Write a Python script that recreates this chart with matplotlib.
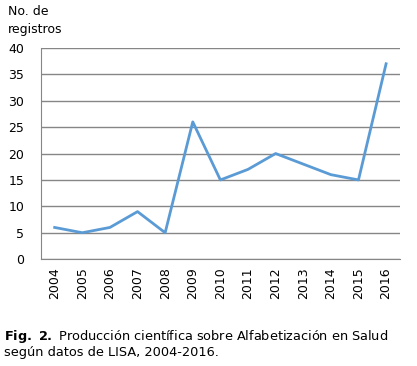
import matplotlib
matplotlib.use("Agg")
import matplotlib.pyplot as plt

years = ['2004', '2005', '2006', '2007', '2008', '2009', '2010',
         '2011', '2012', '2013', '2014', '2015', '2016']
registros = [6, 5, 6, 9, 5, 26, 15, 17, 20, 18, 16, 15, 37]
y_ticks = [0, 5, 10, 15, 20, 25, 30, 35, 40]

plt.rcParams['font.family'] = ['DejaVu Sans']
plt.rcParams['mathtext.fontset'] = 'dejavusans'

fig = plt.figure(figsize=(4.17, 3.66), dpi=100)
ax = fig.add_axes([0.098, 0.292, 0.861, 0.577])

x = list(range(len(years)))
ax.plot(x, registros, color='#5B9BD5', linewidth=2)

ax.set_xlim(-0.5, len(years) - 0.5)
ax.set_ylim(0, 40)
ax.set_yticks(y_ticks)
ax.set_xticks(x)
ax.set_xticklabels(years, rotation=90)
ax.tick_params(axis='both', length=0, labelsize=9, colors='black')
ax.tick_params(axis='y', pad=12)
ax.tick_params(axis='x', pad=6)

# gridlines like the office chart
ax.yaxis.grid(True, color='#868686', linewidth=1)
ax.set_axisbelow(True)
for s in ['top', 'right']:
    ax.spines[s].set_visible(False)
ax.spines['left'].set_color('#868686')
ax.spines['bottom'].set_color('#868686')

fig.text(0.02, 0.985, 'No. de\nregistros', ha='left', va='top',
         fontsize=9, linespacing=1.5)

# caption
fig.text(0.01, 0.072,
         r'$\bf{Fig.\ 2.}$ Producción científica sobre Alfabetización en Salud',
         fontsize=9.3, ha='left', va='baseline')
fig.text(0.01, 0.026, 'según datos de LISA, 2004-2016.', fontsize=9.3,
         ha='left', va='baseline')

fig.savefig('out.png', dpi=100)
